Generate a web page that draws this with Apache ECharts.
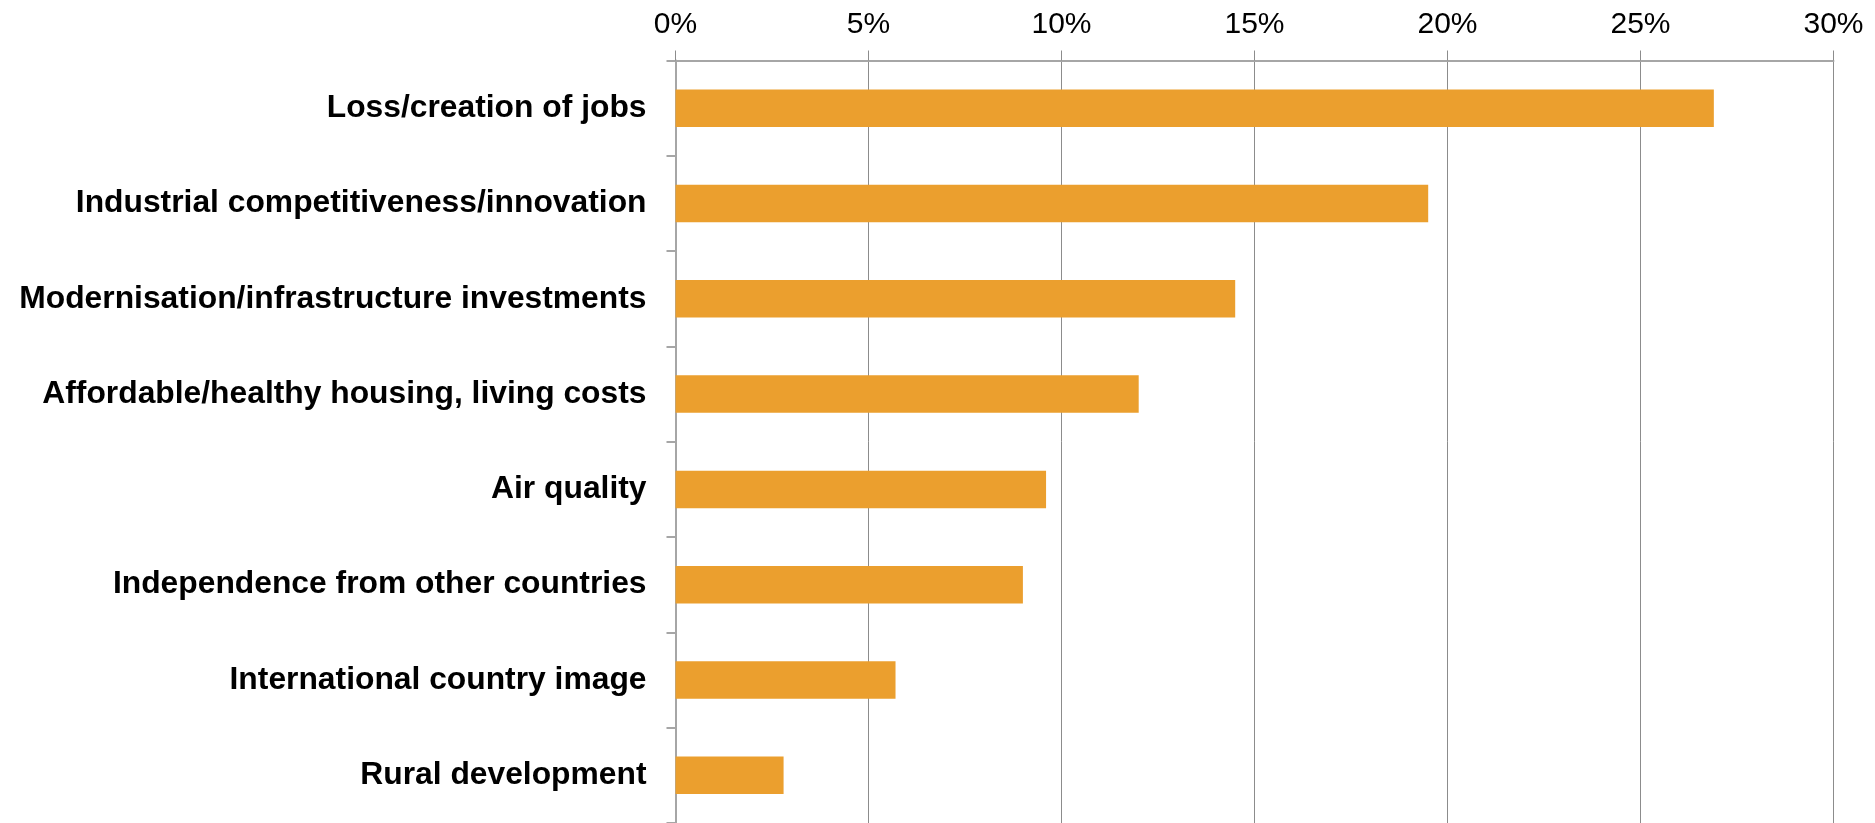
<!DOCTYPE html>
<html>
<head>
<meta charset="utf-8">
<script src="https://cdn.jsdelivr.net/npm/echarts@6/dist/echarts.min.js"></script>
<style>
html,body{margin:0;padding:0;background:#fff;}
#chart{width:1875px;height:823px;}
</style>
</head>
<body>
<div id="chart"></div>
<script>
const categories = [
  "Loss/creation of jobs",
  "Industrial competitiveness/innovation",
  "Modernisation/infrastructure investments",
  "Affordable/healthy housing, living costs",
  "Air quality",
  "Independence from other countries",
  "International country image",
  "Rural development"
];
const shares = [26.9, 19.5, 14.5, 12.0, 9.6, 9.0, 5.7, 2.8];
const axisMin = 0;
const axisMax = 30;
const axisStep = 5;

const chart = echarts.init(document.getElementById('chart'), null, {renderer: 'canvas'});
chart.setOption({
  animation: false,
  backgroundColor: '#ffffff',
  grid: {left: 675.5, top: 60.5, width: 1158, height: 766, containLabel: false},
  xAxis: {
    type: 'value',
    position: 'top',
    min: axisMin,
    max: axisMax,
    interval: axisStep,
    axisLine: {show: true, lineStyle: {color: '#a6a6a6', width: 2}},
    axisTick: {show: true, length: 10, lineStyle: {color: '#8c8c8c', width: 1}},
    splitLine: {show: true, lineStyle: {color: '#8c8c8c', width: 1}},
    axisLabel: {
      formatter: v => v + '%',
      fontFamily: 'Liberation Sans, Arial, sans-serif',
      fontSize: 30,
      color: '#000',
      margin: 21
    }
  },
  yAxis: {
    type: 'category',
    data: categories,
    inverse: true,
    axisLine: {show: true, lineStyle: {color: '#a6a6a6', width: 2}},
    axisTick: {show: true, length: 9, lineStyle: {color: '#a6a6a6', width: 2}},
    splitLine: {show: false},
    axisLabel: {
      fontFamily: 'Liberation Sans, Arial, sans-serif',
      fontWeight: 'bold',
      fontSize: 31.8,
      color: '#000',
      margin: 29
    }
  },
  series: [{
    type: 'bar',
    data: shares,
    barWidth: '39.4%',
    itemStyle: {color: '#EB9F2E'},
    silent: true
  }]
});
</script>
</body>
</html>
